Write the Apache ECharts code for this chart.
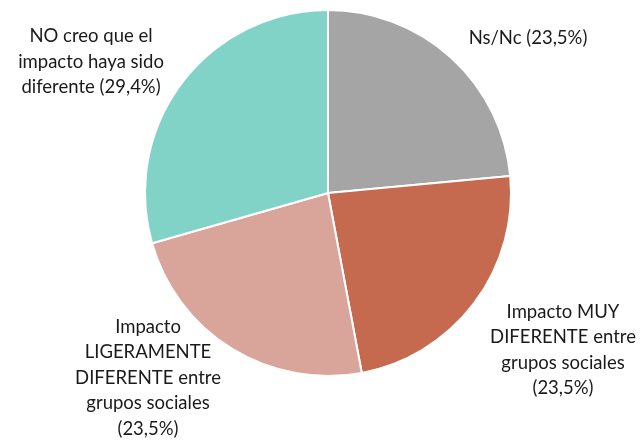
<!DOCTYPE html>
<html>
<head>
<meta charset="utf-8">
<script src="https://cdn.jsdelivr.net/npm/echarts@6/dist/echarts.min.js"></script>
<style>
  html, body { margin: 0; padding: 0; background: #fff; }
  #chart { width: 641px; height: 442px; }
</style>
</head>
<body>
<div id="chart"></div>
<script>
const categories = [
  'Ns/Nc',
  'Impacto MUY\nDIFERENTE entre\ngrupos sociales',
  'Impacto\nLIGERAMENTE\nDIFERENTE entre\ngrupos sociales',
  'NO creo que el\nimpacto haya sido\ndiferente'
]
const values = [23.5, 23.5, 23.5, 29.4]
const valueLabels = ['23,5%', '23,5%', '23,5%', '29,4%']
// label suffix goes on its own line for the longer labels
const labelJoin = [' ', '\n', '\n', ' ']

const colors = ['#a5a5a5', '#c5694f', '#d9a59b', '#82d3c7']
// label centres, px
const labelPos = [[528, 38], [563, 350], [148, 378], [91, 62]]

const chart = echarts.init(document.getElementById('chart'))

chart.setOption({
  animation: false,
  series: [{
    type: 'pie',
    center: [328, 193],
    radius: 183,
    startAngle: 90,
    clockwise: true,
    itemStyle: { borderColor: '#fff', borderWidth: 2 },
    label: {
      show: true,
      position: 'outside',
      fontFamily: 'Lato, sans-serif',
      fontSize: 18.5,
      lineHeight: 25.5,
      color: '#1a1a1a',
      align: 'center',
      overflow: 'none',
      formatter: p => p.name + labelJoin[p.dataIndex] + '(' + valueLabels[p.dataIndex] + ')'
    },
    labelLine: { show: false },
    labelLayout: p => ({
      x: labelPos[p.dataIndex][0],
      y: labelPos[p.dataIndex][1],
      align: 'center',
      verticalAlign: 'middle'
    }),
    data: categories.map((c, i) => ({
      name: c,
      value: values[i],
      itemStyle: { color: colors[i] }
    }))
  }]
})
</script>
</body>
</html>
